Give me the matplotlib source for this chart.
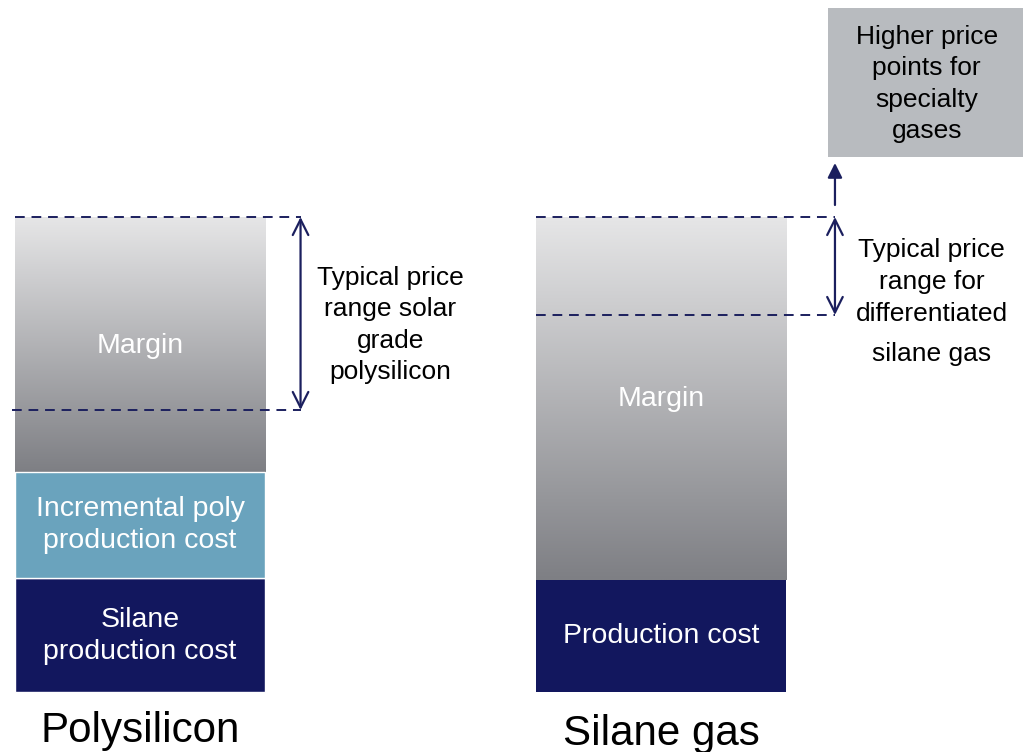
import numpy as np
import matplotlib.pyplot as plt
from matplotlib.colors import LinearSegmentedColormap

plt.rcParams['font.family'] = ['Liberation Sans', 'DejaVu Sans']

# price stack components (relative units)
products = ["Polysilicon", "Silane gas"]
poly_silane_cost = 1.14
poly_incremental_cost = 1.06
poly_margin = 2.55
gas_production_cost = 1.12
gas_margin = 3.63

# typical price ranges (low, high)
poly_price_range = (2.82, 4.75)
gas_price_range = (3.77, 4.75)
specialty_box = (5.35, 6.84)

navy = "#12175e"
steel = "#6aa3bd"
dash_col = "#1b1f5e"
margin_cmap = LinearSegmentedColormap.from_list("margin", ["#7e7f84", "#e6e6e7"])

fig = plt.figure(figsize=(10.23, 7.52), dpi=100)
ax = fig.add_axes([0, 0, 1, 1])
ax.set_xlim(-0.269, 1.695)
ax.set_ylim(-0.6, 6.92)
ax.axis("off")

w = 0.48
x = np.arange(len(products))


def gradient(xc, bottom, height):
    grad = np.linspace(0, 1, 256).reshape(-1, 1)
    ax.imshow(grad, cmap=margin_cmap, origin="lower", aspect="auto",
              extent=(xc - w / 2, xc + w / 2, bottom, bottom + height), zorder=1)


# polysilicon stack
ax.bar(x[0], poly_silane_cost, width=w, color=navy, edgecolor="white", linewidth=1, zorder=2)
ax.bar(x[0], poly_incremental_cost, bottom=poly_silane_cost, width=w, color=steel,
       edgecolor="white", linewidth=1, zorder=2)
gradient(x[0], poly_silane_cost + poly_incremental_cost, poly_margin)

# silane gas stack
ax.bar(x[1], gas_production_cost, width=w, color=navy, zorder=2)
gradient(x[1], gas_production_cost, gas_margin)

lbl = dict(color="white", fontsize=20.5, ha="center", va="center", linespacing=1.32, zorder=3)
ax.text(x[0], 3.46, "Margin", **lbl)
ax.text(x[0], poly_silane_cost + poly_incremental_cost / 2, "Incremental poly\nproduction cost", **lbl)
ax.text(x[0], poly_silane_cost / 2 - 0.01, "Silane\nproduction cost", **lbl)
ax.text(x[1], 2.93, "Margin", **lbl)
ax.text(x[1], gas_production_cost / 2, "Production cost", **lbl)

# price range markers
dash = dict(color=dash_col, linestyle=(0, (5, 3.5)), linewidth=1.4, zorder=4)
ax.plot([x[0] - w / 2, 0.308], [poly_price_range[1]] * 2, **dash)
ax.plot([x[0] - w / 2 - 0.006, 0.308], [poly_price_range[0]] * 2, **dash)
ax.plot([x[1] - w / 2, 1.334], [gas_price_range[1]] * 2, **dash)
ax.plot([x[1] - w / 2, 1.334], [gas_price_range[0]] * 2, **dash)

arr = dict(arrowstyle="<->", color=dash_col, lw=1.6, mutation_scale=28, shrinkA=0, shrinkB=0)
ax.annotate("", xy=(0.308, poly_price_range[1]), xytext=(0.308, poly_price_range[0]), arrowprops=arr)
ax.annotate("", xy=(1.334, gas_price_range[1]), xytext=(1.334, gas_price_range[0]), arrowprops=arr)
ax.annotate("", xy=(1.334, 5.29), xytext=(1.334, 4.87),
            arrowprops=dict(arrowstyle="-|>", color=dash_col, lw=1.6, mutation_scale=22,
                            shrinkA=0, shrinkB=0))

note = dict(color="black", fontsize=19, ha="center", va="center", linespacing=1.4)
ax.text(0.48, 3.67, "Typical price\nrange solar\ngrade\npolysilicon", **note)
ax.text(1.52, 4.10, "Typical price\nrange for\ndifferentiated", **note)
ax.text(1.52, 3.38, "silane gas", **note)

# specialty gases box
ax.bar(1.32, specialty_box[1] - specialty_box[0], bottom=specialty_box[0], width=0.5,
       align="edge", color="#b8bbbf", zorder=2)
ax.text(1.51, 6.08, "Higher price\npoints for\nspecialty\ngases", **note, zorder=3)

# product names under the bars
ax.text(x[0], -0.5, products[0], fontsize=30.3, ha="center", va="baseline")
ax.text(x[1], -0.53, products[1], fontsize=30.3, ha="center", va="baseline")

fig.savefig("out.png", dpi=100)
